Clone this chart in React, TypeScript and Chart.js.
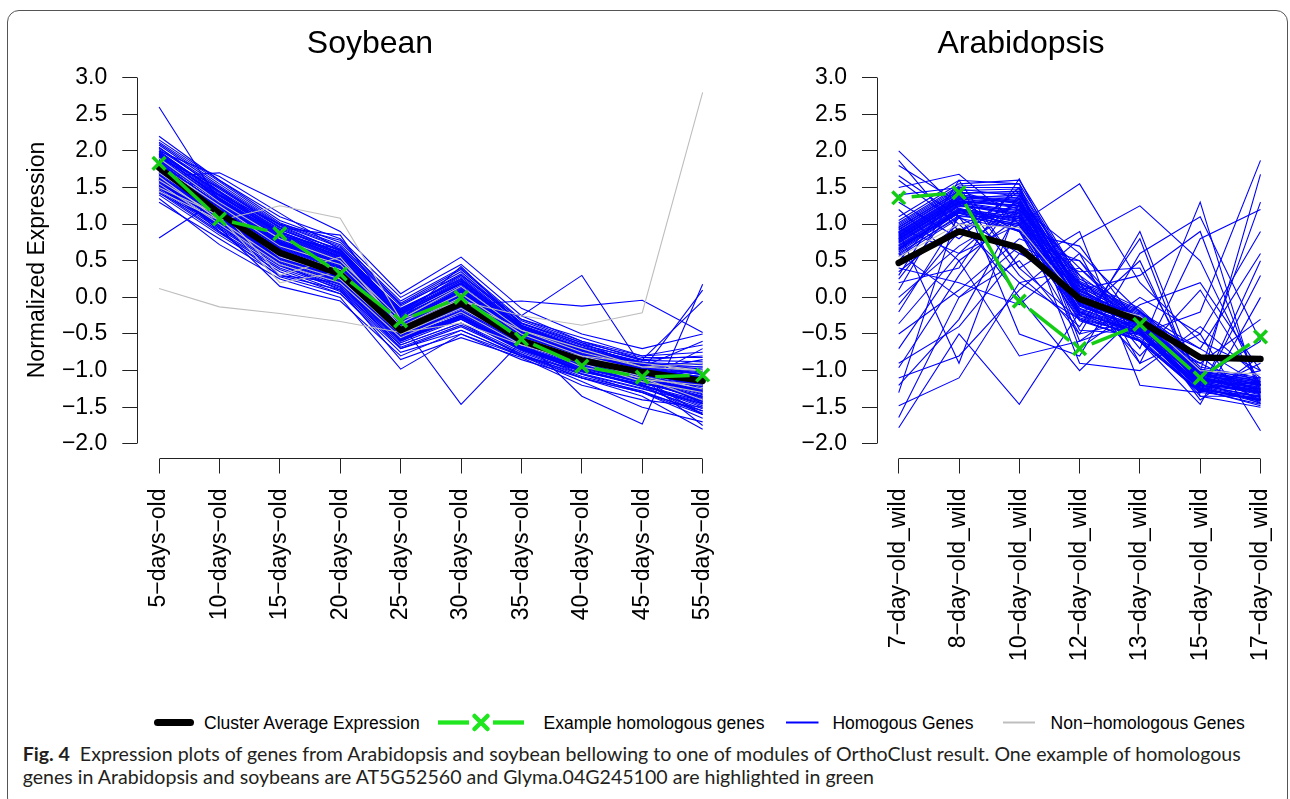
import React, { useEffect, useLayoutEffect, useRef } from "react";
import { Chart, registerables } from "chart.js";

Chart.register(...registerables);

// ---------------- DATA ----------------
const SOY_LABELS = [
  "5\u2212days\u2212old", "10\u2212days\u2212old", "15\u2212days\u2212old", "20\u2212days\u2212old", "25\u2212days\u2212old",
  "30\u2212days\u2212old", "35\u2212days\u2212old", "40\u2212days\u2212old", "45\u2212days\u2212old", "55\u2212days\u2212old",
];
const ARA_LABELS = [
  "7\u2212day\u2212old_wild", "8\u2212day\u2212old_wild", "10\u2212day\u2212old_wild", "12\u2212day\u2212old_wild",
  "13\u2212day\u2212old_wild", "15\u2212day\u2212old_wild", "17\u2212day\u2212old_wild",
];
const Y_TICKS = [-2.0, -1.5, -1.0, -0.5, 0.0, 0.5, 1.0, 1.5, 2.0, 2.5, 3.0];

const SOY_AVERAGE = [1.77, 1.15, 0.61, 0.32, -0.45, -0.08, -0.59, -0.86, -1.02, -1.14];
const SOY_EXAMPLE = [1.83, 1.07, 0.87, 0.32, -0.32, 0.0, -0.57, -0.94, -1.09, -1.06];
const SOY_HOMOLOGOUS = [
  [1.95, 1.35, 0.85, 0.55, -0.25, 0.15, -0.45, -0.75, -0.95, -1.05],
  [1.85, 1.25, 0.72, 0.45, -0.35, 0.05, -0.5, -0.8, -1.0, -1.2],
  [1.7, 1.1, 0.6, 0.3, -0.45, -0.1, -0.6, -0.85, -1.05, -1.15],
  [1.6, 1.05, 0.5, 0.25, -0.5, -0.15, -0.62, -0.9, -1.1, -1.3],
  [2.05, 1.45, 0.95, 0.6, -0.15, 0.25, -0.4, -0.7, -0.9, -0.95],
  [1.5, 0.95, 0.45, 0.15, -0.6, -0.25, -0.7, -0.95, -1.15, -1.4],
  [1.75, 1.2, 0.68, 0.4, -0.4, -0.05, -0.55, -0.82, -1.0, -1.1],
  [1.9, 1.3, 0.78, 0.5, -0.3, 0.1, -0.48, -0.78, -0.98, -1.25],
  [1.65, 1.15, 0.65, 0.35, -0.42, -0.12, -0.58, -0.88, -1.08, -1.2],
  [1.8, 1.0, 0.55, 0.28, -0.48, -0.2, -0.65, -0.92, -1.12, -1.35],
  [2.1, 1.55, 1.0, 0.7, -0.1, 0.35, -0.35, -0.65, -0.85, -0.8],
  [1.55, 1.08, 0.58, 0.2, -0.55, -0.3, -0.72, -1.0, -1.2, -1.5],
  [1.72, 1.18, 0.7, 0.42, -0.38, 0.0, -0.52, -0.8, -1.02, -1.0],
  [1.88, 1.32, 0.82, 0.52, -0.28, 0.12, -0.46, -0.74, -0.96, -1.1],
  [1.45, 0.9, 0.4, 0.12, -0.65, -0.35, -0.75, -1.05, -1.25, -1.45],
  [2.0, 1.4, 0.9, 0.58, -0.2, 0.2, -0.42, -0.72, -0.92, -0.9],
  [1.62, 1.12, 0.62, 0.32, -0.46, -0.08, -0.6, -0.9, -1.1, -1.6],
  [1.78, 1.22, 0.74, 0.46, -0.34, 0.04, -0.5, -0.84, -1.04, -1.3],
  [1.68, 1.02, 0.52, 0.22, -0.52, -0.18, -0.66, -0.96, -1.16, -1.25],
  [1.92, 1.38, 0.88, 0.62, -0.22, 0.18, -0.44, -0.68, -0.88, -1.0],
  [1.58, 1.06, 0.56, 0.26, -0.5, -0.22, -0.68, -0.98, -1.22, -1.55],
  [1.82, 1.28, 0.76, 0.48, -0.32, 0.08, -0.52, -0.8, -1.0, -0.85],
  [1.98, 1.42, 0.92, 0.66, -0.18, 0.28, -0.38, -0.66, -0.9, -1.15],
  [1.52, 0.98, 0.48, 0.18, -0.58, -0.28, -0.7, -1.02, -1.18, -1.35],
  [1.74, 1.16, 0.66, 0.38, -0.44, -0.06, -0.56, -0.86, -1.06, -1.4],
  [2.15, 1.6, 1.05, 0.75, -0.05, 0.4, -0.3, -0.6, -0.8, -0.75],
  [1.4, 0.85, 0.35, 0.05, -0.7, -0.4, -0.78, -1.1, -1.3, -1.65],
  [1.86, 1.3, 0.8, 0.5, -0.3, 0.1, -0.5, -0.76, -0.98, -1.05],
  [1.66, 1.1, 0.64, 0.36, -0.42, -0.1, -0.58, -0.86, -1.12, -1.2],
  [1.94, 1.36, 0.86, 0.56, -0.26, 0.14, -0.46, -0.72, -0.94, -0.95],
  [1.56, 1.04, 0.54, 0.24, -0.54, -0.24, -0.68, -0.94, -1.14, -1.3],
  [1.76, 1.24, 0.72, 0.44, -0.36, 0.02, -0.54, -0.82, -1.04, -1.12],
  [1.84, 1.2, 0.7, 0.4, -0.4, 0.0, -0.56, -0.84, -1.06, -1.45],
  [1.64, 1.14, 0.6, 0.3, -0.48, -0.14, -0.62, -0.9, -1.14, -0.7],
  [2.02, 1.48, 0.96, 0.64, -0.16, 0.24, -0.4, -0.7, -0.92, -1.2],
  [1.7, 1.12, 0.58, 0.34, -0.46, -0.12, -0.6, -0.88, -1.1, -1.75],
  [1.83, 1.27, 0.75, 0.47, -0.33, 0.06, -0.51, -0.79, -0.99, -1.08],
  [1.69, 1.13, 0.63, 0.33, -0.47, -0.11, -0.61, -0.87, -1.09, -1.22],
  [1.97, 1.44, 0.9, 0.6, -0.21, 0.22, -0.43, -0.71, -0.91, -0.98],
  [1.59, 1.03, 0.53, 0.23, -0.53, -0.2, -0.67, -0.95, -1.17, -1.38],
  [1.77, 1.21, 0.69, 0.41, -0.39, -0.02, -0.54, -0.83, -1.03, -1.16],
  [2.08, 1.52, 0.99, 0.68, -0.12, 0.32, -0.36, -0.64, -0.86, -0.88],
  [1.47, 0.93, 0.43, 0.14, -0.62, -0.3, -0.73, -1.04, -1.24, -1.52],
  [1.81, 1.19, 0.79, 0.49, -0.29, 0.09, -0.49, -0.77, -0.97, -1.26],
  [1.63, 1.09, 0.59, 0.29, -0.49, -0.16, -0.63, -0.93, -1.13, -1.42],
  [1.91, 1.34, 0.84, 0.54, -0.27, 0.16, -0.47, -0.73, -0.93, -1.02],
  [1.73, 1.17, 0.67, 0.39, -0.43, -0.04, -0.57, -0.85, -1.05, -1.28],
  [1.54, 1.01, 0.51, 0.21, -0.56, -0.26, -0.69, -0.99, -1.19, -1.48],
  [1.87, 1.31, 0.81, 0.51, -0.31, 0.11, -0.47, -0.75, -0.97, -1.12],
  [2.04, 1.5, 0.98, 0.63, -0.17, 0.26, -0.39, -0.68, -0.89, -0.92],
  [1.67, 1.11, 0.61, 0.31, -0.45, -0.09, -0.59, -0.89, -1.11, -1.33],
  [1.79, 1.23, 0.73, 0.43, -0.37, 0.03, -0.53, -0.81, -1.01, -1.18],
  [1.61, 1.07, 0.57, 0.27, -0.51, -0.19, -0.64, -0.91, -1.15, -1.24],
  [1.93, 1.39, 0.87, 0.57, -0.24, 0.19, -0.45, -0.7, -0.92, -1.06],
  [1.49, 0.97, 0.47, 0.17, -0.59, -0.29, -0.71, -1.01, -1.21, -1.44],
  [1.71, 1.19, 0.71, 0.37, -0.41, -0.07, -0.57, -0.87, -1.07, -1.32],
  [1.89, 1.29, 0.77, 0.49, -0.33, 0.07, -0.49, -0.79, -0.99, -1.14],
  [1.57, 1.05, 0.55, 0.25, -0.52, -0.21, -0.67, -0.97, -1.17, -1.36],
  [2.12, 1.58, 1.02, 0.72, -0.08, 0.38, -0.32, -0.62, -0.82, -0.82],
  [1.43, 0.88, 0.38, 0.08, -0.68, -0.38, -0.77, -1.08, -1.28, -1.58],
  [1.75, 1.26, 0.74, 0.46, -0.34, 0.01, -0.51, -0.8, -1.03, -1.22],
  [1.66, 1.14, 0.62, 0.34, -0.47, -0.13, -0.61, -0.9, -1.13, -1.27],
  [1.96, 1.4, 0.89, 0.59, -0.23, 0.2, -0.43, -0.69, -0.93, -1.04],
  [1.53, 1.0, 0.5, 0.19, -0.57, -0.27, -0.7, -1.0, -1.2, -1.46],
  [1.85, 1.26, 0.76, 0.47, -0.31, 0.09, -0.5, -0.78, -1.0, -1.17],
  [1.7, 1.16, 0.64, 0.36, -0.44, -0.08, -0.58, -0.86, -1.08, -1.29],
  [1.99, 1.43, 0.93, 0.61, -0.19, 0.23, -0.41, -0.7, -0.9, -1.0],
  [1.6, 1.08, 0.54, 0.26, -0.5, -0.18, -0.64, -0.94, -1.14, -1.37],
  [1.8, 1.24, 0.72, 0.44, -0.36, 0.04, -0.54, -0.82, -1.02, -1.2],
  [1.64, 1.1, 0.6, 0.3, -0.46, -0.12, -0.6, -0.9, -1.1, -1.3],
  [1.9, 1.33, 0.83, 0.53, -0.28, 0.13, -0.48, -0.74, -0.95, -1.09],
  [1.51, 0.99, 0.49, 0.2, -0.55, -0.25, -0.7, -1.0, -1.2, -1.42],
  [1.72, 1.4, 1.0, 0.78, -0.1, 0.3, -0.3, -0.55, -0.8, -0.65],
  [1.42, 1.0, 0.3, 0.2, -0.7, -0.45, -0.8, -1.05, -1.3, -1.55],
  [2.0, 1.65, 1.15, 0.65, -0.3, 0.42, -0.38, -0.7, -0.95, -0.6],
  [1.62, 0.9, 0.28, 0.05, -0.75, -0.5, -0.8, -1.1, -1.3, -1.6],
  [2.6, 1.3, 0.9, 0.55, -0.3, 0.05, -0.5, -0.8, -1.0, -1.1],
  [0.81, 1.35, 0.75, 0.45, -0.35, -0.05, -0.6, -0.9, -1.05, -1.2],
  [1.65, 1.7, 1.3, 0.9, 0.05, 0.55, -0.15, -0.5, -0.7, -0.5],
  [1.35, 0.72, 0.25, 0.0, -0.98, -0.5, -0.85, -1.1, -1.35, -1.8],
  [1.55, 0.95, 0.15, -0.05, -0.8, -0.45, -0.8, -1.0, -1.2, -1.6],
  [1.9, 1.5, 0.95, 0.85, -0.35, -1.46, -0.6, -0.9, -1.1, -1.3],
  [1.7, 1.2, 0.6, 0.35, -0.5, -0.1, -0.25, 0.3, -0.95, -1.1],
  [1.8, 1.15, 0.65, 0.3, -0.4, -0.1, -0.05, -0.12, -0.04, -0.48],
  [1.6, 1.1, 0.55, 0.25, -0.5, -0.2, -0.55, -1.35, -1.73, 0.18],
  [1.75, 1.25, 0.7, 0.4, -0.35, 0.0, -0.5, -0.75, -1.0, 0.1],
  [2.2, 1.6, 1.1, 0.8, 0.0, 0.45, -0.25, -0.6, -0.85, -0.05],
  [1.5, 1.0, 0.45, 0.1, -0.65, -0.35, -0.8, -1.15, -1.5, -1.7],
  [1.95, 1.45, 0.85, 0.65, -0.2, 0.3, -0.35, -0.62, -0.95, -1.1],
  [1.3, 0.8, 0.3, 0.1, -0.85, -0.55, -0.82, -1.2, -1.4, -1.5],
];
const SOY_NONHOMOLOGOUS = [
  [0.12, -0.13, -0.22, -0.33, -0.48, -0.35, -0.65, -0.8, -0.9, -1.0],
  [1.45, 1.05, 1.25, 1.08, -0.3, -0.05, -0.45, -0.7, -0.95, -1.0],
  [1.6, 1.1, 0.2, 0.35, -0.5, -0.1, -0.6, -0.85, -1.05, -1.1],
  [1.7, 1.15, 0.55, 0.3, -0.45, -0.05, -0.25, -0.38, -0.21, 2.8],
  [1.55, 1.0, 0.45, 0.2, -0.55, -0.2, -0.65, -0.9, -1.15, -1.3],
  [1.8, 1.25, 0.7, 0.45, -0.35, 0.05, -0.5, -0.8, -1.0, -1.15],
  [1.65, 1.05, 0.5, 0.25, -0.5, -0.15, -0.6, -0.95, -1.1, -1.4],
  [1.9, 1.3, 0.8, 0.5, -0.3, 0.15, -0.45, -0.75, -0.95, -0.9],
  [1.5, 1.12, 0.62, 0.38, -0.42, -0.02, -0.55, -0.88, -1.08, -1.25],
  [1.75, 1.2, 0.3, 0.55, -0.4, 0.0, -0.55, -0.82, -1.12, -1.2],
];

const ARA_AVERAGE = [0.47, 0.9, 0.68, -0.02, -0.32, -0.82, -0.84];
const ARA_EXAMPLE = [1.36, 1.43, -0.05, -0.7, -0.37, -1.1, -0.54];
const ARA_HOMOLOGOUS = [
  [0.8, 1.3, 1.25, 0.0, -0.35, -1.1, -1.25],
  [0.75, 1.25, 1.15, -0.1, -0.4, -1.15, -1.3],
  [0.9, 1.4, 1.3, 0.1, -0.3, -1.05, -1.2],
  [0.65, 1.2, 1.05, -0.15, -0.45, -1.2, -1.35],
  [0.85, 1.35, 1.4, 0.05, -0.25, -1.0, -1.15],
  [0.7, 1.15, 1.0, -0.2, -0.5, -1.25, -1.4],
  [0.95, 1.45, 1.2, 0.15, -0.3, -1.1, -1.1],
  [0.6, 1.1, 1.1, -0.05, -0.38, -1.15, -1.45],
  [0.8, 1.28, 1.35, -0.12, -0.42, -1.08, -1.3],
  [1.0, 1.5, 1.5, 0.2, -0.2, -1.0, -1.2],
  [0.72, 1.22, 0.95, -0.25, -0.55, -1.3, -1.38],
  [0.88, 1.38, 1.28, 0.0, -0.32, -1.12, -1.22],
  [0.78, 1.3, 1.18, -0.08, -0.36, -1.18, -1.28],
  [0.66, 1.18, 1.08, -0.18, -0.48, -1.22, -1.42],
  [0.92, 1.42, 1.45, 0.08, -0.28, -1.06, -1.18],
  [0.82, 1.33, 1.22, 0.02, -0.4, -1.14, -1.32],
  [0.58, 1.12, 0.98, -0.28, -0.52, -1.26, -1.48],
  [1.05, 1.55, 1.6, 0.25, -0.15, -0.95, -1.1],
  [0.76, 1.26, 1.12, -0.1, -0.44, -1.2, -1.36],
  [0.86, 1.36, 1.32, 0.12, -0.34, -1.02, -1.26],
  [0.7, 1.2, 1.02, -0.22, -0.46, -1.24, -1.4],
  [0.98, 1.48, 1.38, 0.18, -0.22, -1.04, -1.16],
  [0.62, 1.15, 0.9, -0.3, -0.6, -1.28, -1.34],
  [0.84, 1.32, 1.25, -0.02, -0.38, -1.1, -1.24],
  [0.74, 1.24, 1.2, -0.06, -0.37, -1.13, -1.27],
  [0.83, 1.34, 1.3, 0.04, -0.33, -1.09, -1.23],
  [0.68, 1.19, 1.07, -0.16, -0.47, -1.21, -1.39],
  [0.93, 1.43, 1.42, 0.14, -0.27, -1.03, -1.17],
  [0.79, 1.29, 1.16, -0.09, -0.41, -1.16, -1.33],
  [0.87, 1.37, 1.34, 0.06, -0.31, -1.07, -1.21],
  [0.64, 1.16, 1.0, -0.24, -0.5, -1.23, -1.44],
  [0.96, 1.46, 1.48, 0.16, -0.24, -1.02, -1.14],
  [0.71, 1.21, 1.1, -0.12, -0.43, -1.19, -1.37],
  [0.81, 1.31, 1.26, -0.03, -0.39, -1.11, -1.29],
  [0.89, 1.39, 1.36, 0.09, -0.29, -1.06, -1.19],
  [0.67, 1.17, 1.04, -0.2, -0.49, -1.25, -1.41],
  [0.77, 1.27, 1.14, -0.07, -0.35, -1.17, -1.31],
  [1.02, 1.52, 1.55, 0.22, -0.18, -0.98, -1.12],
  [0.56, 1.08, 0.92, -0.32, -0.58, -1.27, -1.46],
  [0.85, 1.35, 1.24, 0.01, -0.37, -1.12, -1.25],
  [2.0, 1.2, 1.1, 0.3, -0.3, -1.2, -1.3],
  [1.87, 0.9, 1.3, -0.2, -0.5, -1.1, -1.2],
  [1.66, 1.1, 0.6, 0.5, -0.4, -1.0, -1.4],
  [1.5, 1.68, 1.0, 0.2, -0.3, -0.7, -1.2],
  [0.2, 0.4, 1.62, 0.0, -0.6, -1.3, 0.3],
  [-0.36, 0.6, 1.0, 1.55, 0.2, -0.6, -1.0],
  [-0.96, 0.3, 1.4, 0.3, -0.7, 1.3, -1.4],
  [-1.1, -0.8, 0.1, 0.8, 1.25, 0.5, -1.2],
  [-1.48, -1.1, 0.2, -0.3, -0.5, -0.2, 1.87],
  [-1.64, 0.0, 0.5, -0.5, 0.9, -1.2, 1.68],
  [-1.78, -0.5, -1.46, -0.2, -0.6, -1.46, 0.0],
  [0.1, 1.5, -0.5, -0.8, 0.6, 1.1, -0.6],
  [0.4, 0.2, -0.1, 0.6, -0.9, 0.8, 1.2],
  [1.2, 0.5, -0.8, -0.6, 0.0, -0.5, -1.82],
  [-0.2, 1.1, 0.0, -1.0, -0.2, -0.7, 0.6],
  [0.3, 1.6, 0.4, 0.9, -1.2, -1.3, -0.9],
  [1.3, 0.8, 1.5, -0.7, -0.1, 0.2, -1.0],
  [-0.5, 0.1, 0.8, 0.5, -0.6, -0.9, -0.3],
  [0.5, 1.4, 0.3, -0.4, 0.8, -1.35, -1.5],
  [-0.9, -0.4, 0.6, 0.2, -0.9, -0.5, 0.9],
  [1.6, 1.0, 0.2, 0.4, -0.3, -1.4, -0.8],
  [0.0, 0.7, 1.2, -0.9, -1.0, -0.4, -1.1],
  [-1.3, 1.2, 0.9, 0.1, 0.3, 0.9, -1.3],
  [0.9, -0.9, 1.3, -0.45, -0.5, -1.0, 1.3],
  [1.1, 1.6, 1.55, -0.6, -0.3, -1.2, -1.0],
  [0.25, 1.3, 0.9, 0.7, -0.4, -0.9, -1.3],
  [-0.1, 0.9, 1.45, 0.0, -0.8, 0.1, -1.2],
  [0.6, 0.0, 0.7, 0.35, 0.4, -1.1, -0.6],
  [1.4, 1.5, 0.4, -0.3, -0.6, -1.3, 0.5],
  [-0.7, 0.5, 1.1, -0.1, -0.45, -1.35, -1.35],
  [0.35, 1.0, 1.25, 0.6, -0.2, -0.8, -1.45],
  [1.8, 1.3, 0.9, -0.5, -0.3, -1.2, -1.25],
  [-1.2, -0.3, 1.2, 0.4, -0.4, -1.1, -1.3],
  [0.95, 0.6, 1.35, -0.25, 0.5, -1.25, -1.15],
];
const ARA_NONHOMOLOGOUS = [
  [0.55, 1.0, 0.95, -0.05, -0.25, -1.0, -1.05],
];

// ---------------- STYLE ----------------
const AXIS_FONT = "'Liberation Sans', Arial, Helvetica, sans-serif";
const CAPTION_FONT = "Lato, 'Open Sans', sans-serif";
const BLUE = "#0000ff";
const GRAY = "#bebebe";
const GREEN = "#14cc14";
const LEGEND_GREEN = "#1fe61f";
const AXIS_COLOR = "#222";
const GAP = 13;

const align = (p: number) => Math.round(p - 0.5) + 0.5;

const rAxesPlugin = {
  id: "rAxes",
  afterDraw(chart: any) {
    const { ctx, chartArea, scales } = chart;
    const xs = scales.x;
    const ys = scales.y;
    const n = chart.options.nCats as number;
    ctx.save();
    ctx.strokeStyle = AXIS_COLOR;
    ctx.lineWidth = 1;
    const xl = align(chartArea.left);
    ctx.beginPath();
    ctx.moveTo(xl, align(ys.getPixelForValue(Y_TICKS[0])));
    ctx.lineTo(xl, align(ys.getPixelForValue(Y_TICKS[Y_TICKS.length - 1])));
    ctx.stroke();
    const yb = align(chartArea.bottom);
    ctx.beginPath();
    ctx.moveTo(align(xs.getPixelForValue(0)), yb);
    ctx.lineTo(align(xs.getPixelForValue(n - 1)), yb);
    ctx.stroke();
    ctx.restore();
  },
};

const typeBPlugin = {
  id: "typeB",
  afterDatasetsDraw(chart: any) {
    const ctx = chart.ctx;
    chart.data.datasets.forEach((d: any, i: number) => {
      if (!d.typeB) return;
      const pts = chart.getDatasetMeta(i).data;
      ctx.save();
      ctx.strokeStyle = d.borderColor;
      ctx.lineWidth = d.borderWidth;
      ctx.lineCap = "butt";
      for (let k = 0; k < pts.length - 1; k++) {
        const a = pts[k];
        const b = pts[k + 1];
        const dx = b.x - a.x;
        const dy = b.y - a.y;
        const len = Math.hypot(dx, dy);
        if (len <= 2 * GAP) continue;
        const ux = dx / len;
        const uy = dy / len;
        ctx.beginPath();
        ctx.moveTo(a.x + ux * GAP, a.y + uy * GAP);
        ctx.lineTo(b.x - ux * GAP, b.y - uy * GAP);
        ctx.stroke();
      }
      ctx.restore();
    });
  },
};

const toXY = (arr: number[]) => arr.map((v, i) => ({ x: i, y: v }));
const fmtY = (v: number) => (v < 0 ? "\u2212" : "") + Math.abs(v).toFixed(1);

function makeChart(
  canvas: HTMLCanvasElement,
  labels: string[],
  average: number[],
  example: number[],
  homologous: number[][],
  nonhomologous: number[][],
  axisLeft: number,
  padRight: number
) {
  const H = canvas.height;
  const datasets: any[] = [];
  datasets.push({
    label: "Example homologous genes",
    data: toXY(example),
    showLine: false,
    typeB: true,
    borderColor: GREEN,
    borderWidth: 3.5,
    pointStyle: "crossRot",
    pointRadius: 9,
    pointBorderWidth: 3.5,
    pointBorderColor: GREEN,
    pointBackgroundColor: GREEN,
    order: 0,
  });
  datasets.push({
    label: "Cluster Average Expression",
    data: toXY(average),
    borderColor: "#000",
    borderWidth: 6.5,
    borderCapStyle: "round",
    borderJoinStyle: "round",
    pointRadius: 0,
    order: 1,
  });
  nonhomologous.forEach((row) =>
    datasets.push({ label: "Non-homologous", data: toXY(row), borderColor: GRAY, borderWidth: 1.1, pointRadius: 0, order: 2 })
  );
  homologous.forEach((row) =>
    datasets.push({ label: "Homogous", data: toXY(row), borderColor: BLUE, borderWidth: 1.1, pointRadius: 0, order: 3 })
  );
  const n = labels.length;
  return new Chart(canvas, {
    type: "line",
    data: { datasets },
    plugins: [rAxesPlugin, typeBPlugin],
    options: {
      nCats: n,
      animation: false,
      responsive: false,
      maintainAspectRatio: false,
      devicePixelRatio: 1,
      events: [],
      layout: { padding: { top: 63, right: padRight, left: 0, bottom: 0 } },
      plugins: { legend: { display: false }, tooltip: { enabled: false }, title: { display: false } },
      elements: { line: { tension: 0 } },
      scales: {
        x: {
          type: "linear",
          min: -0.36,
          max: n - 1 + 0.36,
          afterFit: (s: any) => {
            s.height = H - 458.5;
          },
          afterBuildTicks: (s: any) => {
            s.ticks = labels.map((_, i) => ({ value: i }));
          },
          ticks: {
            autoSkip: false,
            minRotation: 90,
            maxRotation: 90,
            padding: 15,
            color: "#000",
            font: { family: AXIS_FONT, size: 23 },
            callback: (v: any) => labels[Math.round(Number(v))],
          },
          grid: { display: true, drawOnChartArea: false, drawTicks: true, tickLength: 15, color: AXIS_COLOR, tickColor: AXIS_COLOR, lineWidth: 1 },
          border: { display: false },
        },
        y: {
          type: "linear",
          min: -2.2,
          max: 3.2,
          afterFit: (s: any) => {
            s.width = axisLeft;
          },
          afterBuildTicks: (s: any) => {
            s.ticks = Y_TICKS.map((v) => ({ value: v }));
          },
          ticks: {
            padding: 15,
            color: "#000",
            font: { family: AXIS_FONT, size: 23 },
            callback: (v: any) => fmtY(Number(v)),
          },
          grid: { display: true, drawOnChartArea: false, drawTicks: true, tickLength: 15, color: AXIS_COLOR, tickColor: AXIS_COLOR, lineWidth: 1 },
          border: { display: false },
        },
      },
    } as any,
  });
}

const legendText: React.CSSProperties = {
  position: "absolute",
  top: 713,
  fontSize: 17.5,
  lineHeight: "20px",
  whiteSpace: "nowrap",
  color: "#000",
  fontFamily: AXIS_FONT,
};

export default function App() {
  const soyRef = useRef<HTMLCanvasElement>(null);
  const araRef = useRef<HTMLCanvasElement>(null);
  const capRef = useRef<HTMLDivElement>(null);
  const line1Ref = useRef<HTMLSpanElement>(null);

  useEffect(() => {
    const c1 = makeChart(soyRef.current!, SOY_LABELS, SOY_AVERAGE, SOY_EXAMPLE, SOY_HOMOLOGOUS, SOY_NONHOMOLOGOUS, 137.3, 35.6);
    const c2 = makeChart(araRef.current!, ARA_LABELS, ARA_AVERAGE, ARA_EXAMPLE, ARA_HOMOLOGOUS, ARA_NONHOMOLOGOUS, 117, 37.8);
    return () => {
      c1.destroy();
      c2.destroy();
    };
  }, []);

  useLayoutEffect(() => {
    const el = line1Ref.current;
    const cap = capRef.current;
    if (!el || !cap) return;
    const w = el.getBoundingClientRect().width;
    if (w > 0) {
      const size = 17.5 * (1219 / w);
      cap.style.fontSize = size.toFixed(2) + "px";
    }
  }, []);

  return (
    <div
      style={{
        position: "absolute",
        left: 0,
        top: 0,
        width: 1290,
        height: 799,
        overflow: "hidden",
        background: "#fff",
        fontFamily: AXIS_FONT,
      }}
    >
      <div
        style={{
          position: "absolute",
          left: 7,
          top: 10,
          width: 1281,
          height: 800,
          border: "1px solid #555",
          borderRadius: 12,
          boxSizing: "border-box",
        }}
      />
      <canvas ref={soyRef} width={760} height={700} style={{ position: "absolute", left: 0, top: 0, width: 760, height: 700 }} />
      <canvas ref={araRef} width={560} height={700} style={{ position: "absolute", left: 760, top: 0, width: 560, height: 700 }} />

      <div style={{ position: "absolute", left: 170, width: 400, top: 26, textAlign: "center", fontSize: 32, lineHeight: "32px", color: "#000" }}>
        Soybean
      </div>
      <div style={{ position: "absolute", left: 821, width: 400, top: 26, textAlign: "center", fontSize: 32, lineHeight: "32px", color: "#000" }}>
        Arabidopsis
      </div>
      <div
        style={{
          position: "absolute",
          left: 36 - 200,
          top: 260 - 14,
          width: 400,
          height: 28,
          lineHeight: "28px",
          fontSize: 23,
          textAlign: "center",
          transform: "rotate(-90deg)",
          whiteSpace: "nowrap",
          color: "#000",
        }}
      >
        Normalized Expression
      </div>

      <svg width={1290} height={45} style={{ position: "absolute", left: 0, top: 700 }}>
        <line x1={157.5} x2={190.5} y1={22.5} y2={22.5} stroke="#000" strokeWidth={7} strokeLinecap="round" />
        <line x1={438} x2={469} y1={22.5} y2={22.5} stroke={LEGEND_GREEN} strokeWidth={4.3} />
        <line x1={493} x2={524} y1={22.5} y2={22.5} stroke={LEGEND_GREEN} strokeWidth={4.3} />
        <line x1={474.5} x2={487.5} y1={16} y2={29} stroke={LEGEND_GREEN} strokeWidth={4.5} strokeLinecap="round" />
        <line x1={474.5} x2={487.5} y1={29} y2={16} stroke={LEGEND_GREEN} strokeWidth={4.5} strokeLinecap="round" />
        <line x1={786} x2={818.5} y1={22.5} y2={22.5} stroke={BLUE} strokeWidth={2} />
        <line x1={1003} x2={1035} y1={22.5} y2={22.5} stroke={GRAY} strokeWidth={2} />
      </svg>
      <div style={{ ...legendText, left: 204 }}>Cluster Average Expression</div>
      <div style={{ ...legendText, left: 543.6 }}>Example homologous genes</div>
      <div style={{ ...legendText, left: 832.4 }}>Homogous Genes</div>
      <div style={{ ...legendText, left: 1050.6 }}>Non{"\u2212"}homologous Genes</div>

      <div
        ref={capRef}
        style={{
          position: "absolute",
          left: 22.7,
          top: 742,
          fontFamily: CAPTION_FONT,
          fontSize: 17.5,
          lineHeight: "23px",
          color: "#231f20",
          whiteSpace: "nowrap",
        }}
      >
        <div>
          <span ref={line1Ref}>
            <b>Fig. 4</b>
            {"\u00a0\u00a0"}Expression plots of genes from Arabidopsis and soybean bellowing to one of modules of OrthoClust result. One example of homologous
          </span>
        </div>
        <div>genes in Arabidopsis and soybeans are AT5G52560 and Glyma.04G245100 are highlighted in green</div>
      </div>
    </div>
  );
}
